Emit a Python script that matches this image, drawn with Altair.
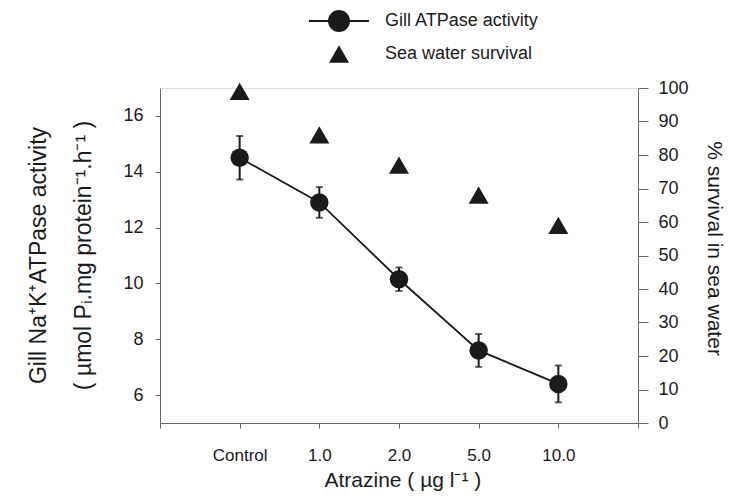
import altair as alt
import pandas as pd

# ---------------- data ----------------
categories = ["Control", "1.0", "2.0", "5.0", "10.0"]
atpase = [14.5, 12.9, 10.15, 7.6, 6.4]          # Gill Na+K+ ATPase activity
atpase_err = [0.78, 0.55, 0.42, 0.59, 0.66]     # error bar half-length
survival = [99, 86, 77, 68, 59]                 # % survival in sea water

series_atp = "Gill ATPase activity"
series_sur = "Sea water survival"

df = pd.DataFrame({
    "pos": list(range(1, len(categories) + 1)),
    "category": categories,
    "atpase": atpase,
    "err": atpase_err,
    "survival": survival,
})
df["lo"] = df["atpase"] - df["err"]
df["hi"] = df["atpase"] + df["err"]
df["s_atp"] = series_atp
df["s_sur"] = series_sur

FONT = "Liberation Sans"
INK = "#1a1a1a"
AXIS = "#666666"

label_expr = "[''," + ",".join(f"'{c}'" for c in categories) + ",''][datum.value]"

x_axis = alt.Axis(
    values=list(range(0, len(categories) + 2)), labelExpr=label_expr,
    title="Atrazine ( µg l⁻¹ )", tickSize=5, labelPadding=19, labelFontSize=17,
    titleFontSize=21, titleX=164, titleY=63, titleAlign="left", titleBaseline="alphabetic",
    grid=False, domainColor=AXIS, tickColor=AXIS, labelColor=INK, titleColor=INK,
    titleFontWeight="normal", labelFont=FONT, titleFont=FONT, labelFlush=False,
    labelOverlap=False,
)
x_scale = alt.Scale(domain=[0, len(categories) + 1], nice=False, zero=False)


def X():
    return alt.X("pos:Q", scale=x_scale, axis=x_axis)


left_axis = alt.Axis(
    values=[6, 8, 10, 12, 14, 16], tickSize=5, labelPadding=12, labelFontSize=18,
    title=["Gill Na⁺K⁺ATPase activity", "( µmol Pᵢ.mg protein⁻¹.h⁻¹ )"],
    titleFontSize=23, titleLineHeight=45, titleAngle=-90, titleX=-115, titleY=167,
    titleAlign="center", titleBaseline="alphabetic", grid=False,
    domainColor=AXIS, tickColor=AXIS, labelColor=INK, titleColor=INK,
    titleFontWeight="normal", labelFont=FONT, titleFont=FONT,
)
left_scale = alt.Scale(domain=[5, 17], nice=False, zero=False)


def YL(field):
    return alt.Y(f"{field}:Q", scale=left_scale, axis=left_axis)


LEGEND_PATH = ("M-1,0H-0.3333M0.3333,0H1"
               "M-0.3333,0A0.3333,0.3333,0,1,0,0.3333,0A0.3333,0.3333,0,1,0,-0.3333,0Z")

base = alt.Chart(df)

line = base.mark_line(color=INK, strokeWidth=1.8).encode(x=X(), y=YL("atpase"))
rules = base.mark_rule(color=INK, strokeWidth=2).encode(x=X(), y=YL("lo"), y2="hi:Q")
cap_lo = base.mark_tick(color=INK, orient="horizontal", size=7, thickness=2).encode(x=X(), y=YL("lo"))
cap_hi = base.mark_tick(color=INK, orient="horizontal", size=7, thickness=2).encode(x=X(), y=YL("hi"))
circles = base.mark_point(filled=True, shape="circle", size=340, opacity=1).encode(
    x=X(), y=YL("atpase"),
    color=alt.Color("s_atp:N", scale=alt.Scale(domain=[series_atp], range=[INK]),
                    legend=alt.Legend(title=None, orient="none", legendX=148, legendY=-98,
                                      symbolType=LEGEND_PATH, symbolSize=3600,
                                      symbolStrokeColor=INK, symbolStrokeWidth=2,
                                      symbolFillColor=INK,
                                      labelFontSize=18, labelFont=FONT, labelColor=INK,
                                      labelOffset=15, padding=0)),
)

triangles = base.mark_point(filled=True, shape="triangle-up", size=400, color=INK, opacity=1).encode(
    x=X(),
    y=alt.Y("survival:Q", scale=alt.Scale(domain=[0, 100], nice=False),
            axis=alt.Axis(orient="right", values=list(range(0, 101, 10)), tickSize=10,
                          labelPadding=10, labelFontSize=18, title="% survival in sea water",
                          titleFontSize=21, titleAngle=90, titleX=69, titleY=160,
                          titleAlign="center", titleBaseline="alphabetic", grid=False,
                          domainColor=AXIS, tickColor=AXIS, labelColor=INK, titleColor=INK,
                          titleFontWeight="normal", labelFont=FONT, titleFont=FONT)),
    shape=alt.Shape("s_sur:N", scale=alt.Scale(domain=[series_sur], range=["triangle-up"]),
                    legend=alt.Legend(title=None, orient="none", legendX=168, legendY=-45,
                                      symbolSize=400, symbolFillColor=INK, symbolStrokeColor=INK,
                                      labelFontSize=18, labelFont=FONT, labelColor=INK,
                                      labelOffset=35, padding=0)),
)

left = alt.layer(rules, cap_lo, cap_hi, line, circles)

chart = alt.layer(left, triangles).resolve_scale(
    y="independent", color="independent", shape="independent"
).properties(
    width=478, height=335,
    padding={"left": 152, "top": 80, "right": 91, "bottom": 68},
    autosize=alt.AutoSizeParams(type="none"),
).configure_view(stroke=None).configure(font=FONT)

chart.save("out.html", embed_options={"renderer": "svg", "actions": False})
